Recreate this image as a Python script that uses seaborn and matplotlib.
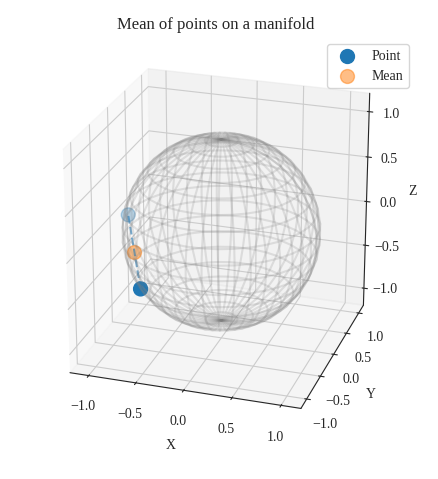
import numpy as np
import matplotlib
matplotlib.use("Agg")
import matplotlib.pyplot as plt
import seaborn as sns

sns.set_style("white")
plt.rcParams['font.family'] = ['Liberation Serif', 'DejaVu Serif']

# data
points_x = [-0.66, -1.00]
points_y = [-0.59, 0.00]
points_z = [-0.47, 0.05]
mean_xyz = [-0.83, -0.30, -0.21]
n_meridians = 40
n_latitudes = 20
axis_ticks = [-1.0, -0.5, 0.0, 0.5, 1.0]

fig = plt.figure(figsize=(4.38, 4.79), dpi=100)
ax = fig.add_axes([0.0365, 0.0877, 0.913, 0.835], projection='3d')
ax.view_init(elev=24, azim=-72)
ax.set_box_aspect((1, 1, 1))

u, v = np.meshgrid(np.linspace(0, 2 * np.pi, n_meridians),
                   np.linspace(0, np.pi, n_latitudes))
sx = np.cos(u) * np.sin(v)
sy = np.sin(u) * np.sin(v)
sz = np.cos(v)
ax.plot_wireframe(sx, sy, sz, color='grey', alpha=0.2)

# line between the two points
ax.plot(points_x, points_y, points_z, '--', color='C0', alpha=0.6)

ax.scatter(points_x, points_y, points_z, s=100, color='C0', label='Point')
ax.scatter([mean_xyz[0]], [mean_xyz[1]], [mean_xyz[2]], s=100, color='C1', alpha=0.5, label='Mean')

ax.set_xlim(-1.2, 1.2)
ax.set_ylim(-1.2, 1.2)
ax.set_zlim(-1.2, 1.2)
ax.set_xticks(axis_ticks)
ax.set_yticks(axis_ticks)
ax.set_zticks(axis_ticks)
ax.set_xlabel('X')
ax.set_ylabel('Y')
ax.set_zlabel('Z')
ax.set_title('Mean of points on a manifold')
ax.legend(loc='upper right')

fig.savefig('out.png', dpi=100)
